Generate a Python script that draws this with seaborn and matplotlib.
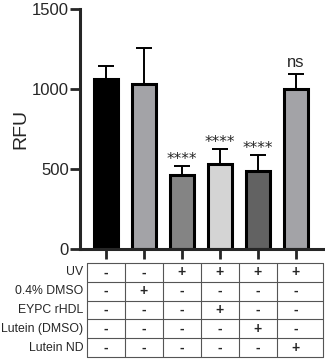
import numpy as np
import pandas as pd
import seaborn as sns
import matplotlib
matplotlib.use("Agg")
import matplotlib.pyplot as plt

# data
groups = ["g1", "g2", "g3", "g4", "g5", "g6"]
rfu = [1064, 1033, 462, 531, 491, 1000]
sd = [80, 223, 61, 94, 96, 97]
stars = ["", "", "****", "****", "****", "ns"]
colors = ["#000000", "#a2a2a8", "#848484", "#d4d4d4", "#626262", "#a2a2a8"]

row_labels = ["UV", "0.4% DMSO", "EYPC rHDL", "Lutein (DMSO)", "Lutein ND"]
table = [
    ["-", "-", "+", "+", "+", "+"],
    ["-", "+", "-", "-", "-", "-"],
    ["-", "-", "-", "+", "-", "-"],
    ["-", "-", "-", "-", "+", "-"],
    ["-", "-", "-", "-", "-", "+"],
]

sns.set_style("ticks")
plt.rcParams['font.family'] = ['Liberation Sans', 'DejaVu Sans']

df = pd.DataFrame({"group": groups, "rfu": rfu})

fig = plt.figure(figsize=(3.25, 3.61), dpi=100)
ax = fig.add_axes([80 / 325, 1 - 249.3 / 361, 245 / 325, 240 / 361])

x = np.arange(len(groups))
ax.errorbar(x, rfu, yerr=[np.zeros(len(sd)), sd], fmt="none", ecolor="black",
            elinewidth=1.4, capsize=5.5, capthick=1.4, zorder=1)
sns.barplot(data=df, x="group", y="rfu", hue="group", palette=colors,
            edgecolor="black", linewidth=2.2, width=0.62, errorbar=None,
            legend=False, ax=ax, zorder=2)

for i, s in enumerate(stars):
    if s == "ns":
        ax.text(i, rfu[i] + sd[i] + 25, s, ha="center", va="bottom", fontsize=12)
    elif s:
        ax.text(i, rfu[i] + sd[i] + 12, s, ha="center", va="baseline",
                fontsize=11, family="DejaVu Sans")

ax.set_xlim(-26 / 38, 219 / 38)
ax.set_ylim(0, 1500)
ax.set_yticks([0, 500, 1000, 1500])
ax.set_xticks(x)
ax.set_xticklabels([])
ax.set_xlabel("")
ax.set_ylabel("RFU", fontsize=14, labelpad=2)
ax.tick_params(axis="y", labelsize=12, width=2, length=7, pad=1)
ax.tick_params(axis="x", width=2, length=7)
for sp in ["left", "bottom"]:
    ax.spines[sp].set_linewidth(2.2)
sns.despine(ax=ax)

# condition table under the bars
tab = fig.add_axes([80 / 325, 1 - 357 / 361, 245 / 325, 94 / 361])
tab.set_xlim(ax.get_xlim())
tab.set_ylim(5, 0)
tab.axis("off")
edges = np.arange(len(groups)) - 0.5
right = 5.71
for k in range(6):
    tab.plot([edges[0], right], [k, k], color="#555555", lw=0.8, clip_on=False)
for e in list(edges) + [right]:
    tab.plot([e, e], [0, 5], color="#555555", lw=0.8, clip_on=False)
for r, lab in enumerate(row_labels):
    tab.text(-0.6, r + 0.5, lab, ha="right", va="center", fontsize=8.8,
             clip_on=False)
    for c, v in enumerate(table[r]):
        tab.text(c, r + 0.5, v, ha="center", va="center", fontsize=10,
                 fontweight="bold")

fig.savefig("out.png", dpi=100)
